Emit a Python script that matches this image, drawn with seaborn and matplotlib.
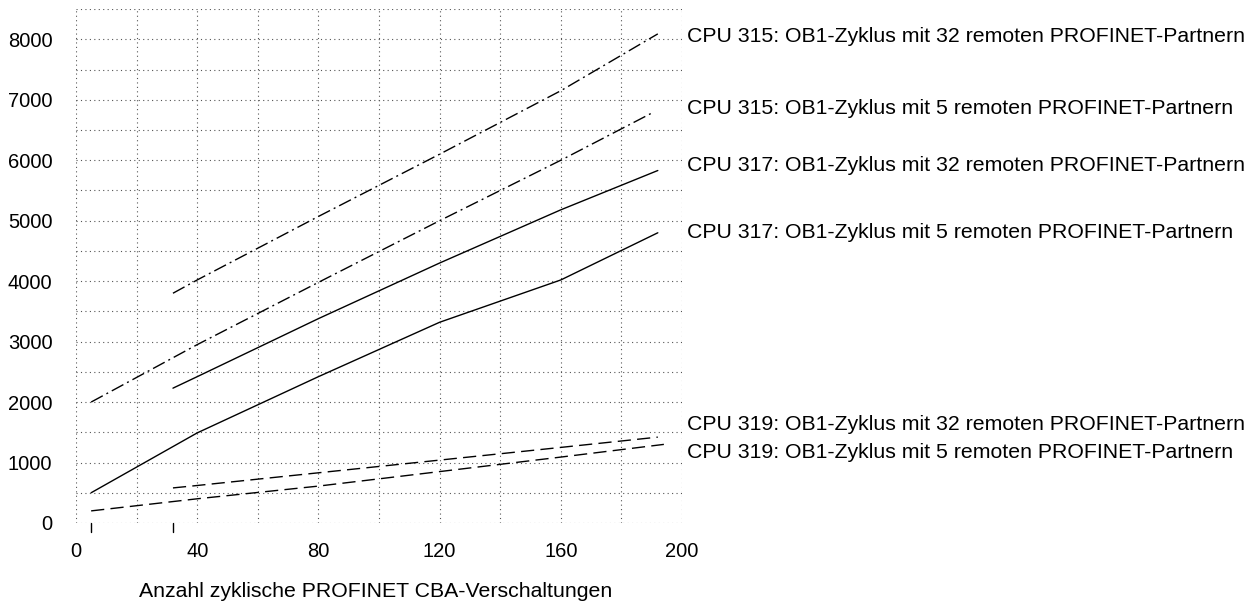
import matplotlib
matplotlib.use("Agg")
import matplotlib.pyplot as plt
import seaborn as sns
import pandas as pd

# data
series_names = [
    "CPU 315: OB1-Zyklus mit 32 remoten PROFINET-Partnern",
    "CPU 315: OB1-Zyklus mit 5 remoten PROFINET-Partnern",
    "CPU 317: OB1-Zyklus mit 32 remoten PROFINET-Partnern",
    "CPU 317: OB1-Zyklus mit 5 remoten PROFINET-Partnern",
    "CPU 319: OB1-Zyklus mit 32 remoten PROFINET-Partnern",
    "CPU 319: OB1-Zyklus mit 5 remoten PROFINET-Partnern",
]
x_315_32 = [32, 40, 80, 120, 160, 192]
y_315_32 = [3800, 4020, 5070, 6100, 7150, 8090]
x_315_5 = [5, 40, 80, 120, 160, 190]
y_315_5 = [2000, 2950, 3980, 5000, 6000, 6780]
x_317_32 = [32, 40, 80, 120, 160, 192]
y_317_32 = [2230, 2420, 3380, 4300, 5180, 5830]
x_317_5 = [5, 40, 80, 120, 160, 192]
y_317_5 = [500, 1490, 2420, 3320, 4020, 4800]
x_319_32 = [32, 40, 80, 120, 160, 192]
y_319_32 = [580, 620, 830, 1040, 1250, 1420]
x_319_5 = [5, 40, 80, 120, 160, 194]
y_319_5 = [200, 400, 610, 850, 1090, 1300]

x_ticks = [0, 40, 80, 120, 160, 200]
y_ticks = [0, 1000, 2000, 3000, 4000, 5000, 6000, 7000, 8000]
start_marks = [5, 32]
label_y = [8040, 6860, 5920, 4800, 1630, 1170]

xs = [x_315_32, x_315_5, x_317_32, x_317_5, x_319_32, x_319_5]
ys = [y_315_32, y_315_5, y_317_32, y_317_5, y_319_32, y_319_5]
rows = []
for name, xv, yv in zip(series_names, xs, ys):
    for a, b in zip(xv, yv):
        rows.append({"series": name, "x": a, "y": b})
df = pd.DataFrame(rows)

dashdot = (9.5, 3.0, 1.4, 3.0)
dashed = (9.5, 4.5)
dash_map = {
    series_names[0]: dashdot,
    series_names[1]: dashdot,
    series_names[2]: "",
    series_names[3]: "",
    series_names[4]: dashed,
    series_names[5]: dashed,
}

sns.set_style("white")
plt.rcParams["font.family"] = ["Liberation Sans", "DejaVu Sans"]
plt.rcParams["text.color"] = "black"
plt.rcParams["xtick.color"] = "black"
plt.rcParams["ytick.color"] = "black"

fig = plt.figure(figsize=(12.54, 6.06), dpi=100)
ax = fig.add_axes([0.0606, 0.137, 0.4833, 0.848])

sns.lineplot(data=df, x="x", y="y", style="series", dashes=dash_map,
             color="black", linewidth=1.0, legend=False, estimator=None,
             sort=False, ax=ax)

ax.set_xlim(0, 200)
ax.set_ylim(0, 8500)
ax.set_xticks(x_ticks)
ax.set_yticks(y_ticks)
ax.set_xticks(range(0, 201, 20), minor=True)
ax.set_yticks(range(0, 8501, 500), minor=True)
ax.grid(True, which="both", linestyle=(0, (1, 3)), color="#555555", linewidth=0.8)
for s in ax.spines.values():
    s.set_visible(False)

ax.tick_params(axis="both", which="major", length=0, labelsize=14.5)
ax.tick_params(axis="y", pad=17)
ax.tick_params(axis="x", pad=14)
ax.tick_params(which="minor", length=0)
ax.set_xlabel("")
ax.set_ylabel("")

# small marks below the axis where lines begin
for xm in start_marks:
    ax.plot([xm, xm], [0, -150], color="black", linewidth=1.0, clip_on=False)

for name, yl in zip(series_names, label_y):
    ax.text(1.008, yl, name, transform=ax.get_yaxis_transform(),
            va="center", ha="left", fontsize=15.3)

fig.text(0.2998, 0.0149, "Anzahl zyklische PROFINET CBA-Verschaltungen",
         ha="center", va="baseline", fontsize=15.3)

fig.savefig("out.png", dpi=100)
plt.close(fig)
